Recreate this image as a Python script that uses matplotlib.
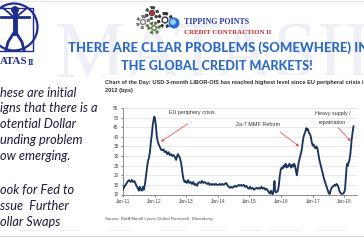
import matplotlib
matplotlib.use('Agg')
import matplotlib.pyplot as plt
from matplotlib.patches import Circle, Rectangle

W, H = 364, 240

# ---------------- data ----------------
dates = [
    2011.00, 2011.04, 2011.08, 2011.12, 2011.16, 2011.20, 2011.24, 2011.28, 2011.32, 2011.36,
    2011.40, 2011.44, 2011.48, 2011.50, 2011.53, 2011.56, 2011.60, 2011.63, 2011.66, 2011.70,
    2011.73, 2011.76, 2011.79, 2011.82, 2011.85, 2011.88, 2011.91, 2011.94, 2011.97, 2011.99,
    2012.01, 2012.04, 2012.07, 2012.10, 2012.13, 2012.16, 2012.20, 2012.24, 2012.28, 2012.32,
    2012.36, 2012.40, 2012.44, 2012.48, 2012.52, 2012.56, 2012.60, 2012.64, 2012.68, 2012.71,
    2012.74, 2012.77, 2012.80, 2012.83, 2012.86, 2012.89, 2012.92, 2012.95, 2012.98, 2013.02,
    2013.06, 2013.10, 2013.14, 2013.18, 2013.22, 2013.26, 2013.30, 2013.34, 2013.38, 2013.42,
    2013.46, 2013.50, 2013.54, 2013.58, 2013.62, 2013.66, 2013.70, 2013.74, 2013.78, 2013.82,
    2013.86, 2013.90, 2013.94, 2013.98, 2014.02, 2014.06, 2014.10, 2014.14, 2014.18, 2014.22,
    2014.26, 2014.30, 2014.34, 2014.38, 2014.42, 2014.46, 2014.50, 2014.54, 2014.58, 2014.62,
    2014.66, 2014.70, 2014.74, 2014.78, 2014.82, 2014.86, 2014.90, 2014.94, 2014.98, 2015.02,
    2015.06, 2015.10, 2015.14, 2015.18, 2015.22, 2015.26, 2015.30, 2015.34, 2015.38, 2015.42,
    2015.46, 2015.50, 2015.54, 2015.58, 2015.62, 2015.65, 2015.68, 2015.71, 2015.74, 2015.77,
    2015.79, 2015.81, 2015.84, 2015.87, 2015.90, 2015.93, 2015.96, 2015.99, 2016.02, 2016.05,
    2016.08, 2016.11, 2016.14, 2016.17, 2016.20, 2016.23, 2016.26, 2016.29, 2016.32, 2016.35,
    2016.38, 2016.41, 2016.44, 2016.47, 2016.50, 2016.53, 2016.56, 2016.59, 2016.62, 2016.65,
    2016.68, 2016.71, 2016.74, 2016.77, 2016.80, 2016.82, 2016.85, 2016.88, 2016.91, 2016.94,
    2016.97, 2017.00, 2017.03, 2017.06, 2017.09, 2017.12, 2017.15, 2017.18, 2017.21, 2017.24,
    2017.27, 2017.30, 2017.33, 2017.36, 2017.39, 2017.42, 2017.45, 2017.48, 2017.51, 2017.54,
    2017.57, 2017.60, 2017.63, 2017.66, 2017.69, 2017.72, 2017.75, 2017.78, 2017.81, 2017.84,
    2017.87, 2017.90, 2017.93, 2017.96, 2017.99, 2018.02, 2018.05, 2018.07, 2018.09, 2018.11,
    2018.13, 2018.15, 2018.17, 2018.19, 2018.21, 2018.23, 2018.25, 2018.27, 2018.29,
]
libor_ois = [
    12.5, 14.0, 15.0, 16.0, 17.0, 17.5, 16.5, 17.5, 16.5, 17.0,
    15.5, 14.0, 13.0, 12.0, 14.0, 12.5, 12.0, 14.0, 12.5, 16.0,
    20.0, 24.0, 27.5, 29.0, 32.0, 37.0, 41.0, 46.0, 49.0, 50.5,
    49.5, 46.0, 40.0, 37.5, 36.0, 35.0, 33.5, 33.0, 33.5, 32.0,
    32.5, 31.0, 32.0, 30.5, 31.0, 30.0, 30.5, 29.5, 28.0, 30.0,
    31.0, 30.0, 29.0, 27.0, 24.0, 20.0, 17.5, 16.5, 17.0, 16.0,
    17.5, 16.0, 16.5, 15.5, 16.5, 15.0, 15.5, 14.5, 16.0, 16.5,
    16.0, 17.0, 16.0, 16.5, 16.0, 15.5, 16.0, 15.0, 15.5, 15.0,
    15.5, 15.0, 15.5, 15.0, 15.0, 15.5, 15.0, 15.5, 15.0, 15.5,
    16.0, 15.0, 14.0, 13.5, 14.0, 13.5, 14.0, 14.5, 14.0, 14.5,
    15.0, 14.5, 15.0, 14.5, 15.0, 14.0, 14.5, 13.5, 13.0, 14.0,
    13.0, 13.5, 12.5, 13.0, 13.5, 13.0, 13.5, 13.0, 14.0, 13.0,
    13.5, 12.5, 13.0, 12.0, 11.0, 10.5, 12.0, 10.5, 10.2, 13.0,
    17.0, 12.0, 11.0, 11.5, 12.0, 15.0, 20.0, 23.0, 24.0, 23.5,
    25.0, 24.5, 26.0, 24.0, 25.0, 24.5, 26.0, 25.0, 24.0, 25.5,
    24.5, 26.0, 25.0, 22.0, 20.0, 24.0, 27.0, 29.0, 31.0, 33.0,
    37.0, 40.0, 41.5, 43.0, 44.5, 43.5, 44.0, 42.0, 41.5, 40.0,
    37.0, 35.5, 36.0, 34.5, 34.0, 35.0, 34.0, 31.0, 28.0, 26.0,
    24.0, 22.0, 20.0, 18.0, 16.5, 15.0, 13.5, 12.0, 10.5, 10.3,
    12.5, 13.5, 14.0, 14.5, 15.0, 14.5, 15.5, 15.0, 14.0, 12.0,
    11.0, 10.5, 10.3, 10.5, 11.0, 12.5, 19.0, 24.0, 26.0, 25.0,
    26.5, 27.0, 29.0, 31.0, 35.0, 38.5, 41.0, 43.5, 45.5,
]
x_ticks = [2011, 2012, 2013, 2014, 2015, 2016, 2017, 2018]
x_tick_labels = ['Jan-11', 'Jan-12', 'Jan-13', 'Jan-14', 'Jan-15', 'Jan-16', 'Jan-17', 'Jan-18']
y_ticks = [10, 15, 20, 25, 30, 35, 40, 45, 50, 55]

left_lines = ['hese are initial', 'igns that there is a', 'otential Dollar',
              'unding problem', 'ow emerging.', 'ook for Fed to',
              'ssue  Further', 'ollar Swaps']
title_1 = 'THERE ARE CLEAR PROBLEMS (SOMEWHERE) IN'
title_2 = 'THE GLOBAL CREDIT MARKETS!'
subtitle_1 = 'Chart of the Day: USD 3-month LIBOR-OIS has reached highest level since EU peripheral crisis in'
subtitle_2 = '2012 (bps)'
source = 'Source: BofA Merrill Lynch Global Research, Bloomberg'

# ---------------- figure ----------------
fig = plt.figure(figsize=(3.64, 2.40), dpi=100)
fig.patch.set_facecolor('white')
renderer = fig.canvas.get_renderer()

bg = fig.add_axes([0, 0, 1, 1])
bg.set_xlim(0, W)
bg.set_ylim(H, 0)
bg.axis('off')


def fit(artist_text, x0, x1):
    bb = artist_text.get_window_extent(renderer)
    fs = artist_text.get_fontsize() * (x1 - x0) / bb.width
    artist_text.set_fontsize(fs)
    return fs


def ftext(x, y, s, **kw):
    return fig.text(x / W, 1 - y / H, s, **kw)


# faint watermark
wm = bg.text(55, 77, 'MATASII', family='Liberation Serif', fontsize=60,
             color='#eff0f7', ha='left', va='baseline', zorder=1)
fit(wm, 55, 372)

# thin lavender lines top / bottom
bg.add_patch(Rectangle((0, 0.8), W, 1.4, color='#e2e2f2', zorder=2, lw=0))
bg.add_patch(Rectangle((0, 235.8), W, 1.6, color='#d8d8ef', zorder=2, lw=0))
for xa, xb in [(20, 45), (60, 80), (110, 130), (160, 185), (200, 225), (240, 262), (270, 300), (318, 345)]:
    bg.add_patch(Rectangle((xa, 229.5), xb - xa, 1.6, color='#ececf6', zorder=2, lw=0))

# white chart card
bg.add_patch(Rectangle((103, 75), 262, 153, color='white', zorder=3, lw=0))

# logo
blue = '#1f2d8c'
bg.add_patch(Circle((14, 27), 23.5, fill=False, ec=blue, lw=1.6, zorder=4))
bg.plot([-4, 33, 33, -4], [8, 8, 51, 51], color=blue, lw=1.0, zorder=4)
bg.add_patch(Circle((15, 10), 3.2, color=blue, zorder=4))
bg.plot([1, 29], [17, 17], color=blue, lw=2.0, zorder=4)
bg.plot([15, 15], [12, 33], color=blue, lw=3.5, zorder=4)
bg.plot([15, 8, 6], [31, 42, 50], color=blue, lw=2.0, zorder=4)
bg.plot([15, 22, 24], [31, 42, 50], color=blue, lw=2.0, zorder=4)
bg.plot([15, 3], [18, 8], color=blue, lw=1.3, zorder=4)
bg.plot([15, 27], [18, 8], color=blue, lw=1.3, zorder=4)
t1 = ftext(0, 62, 'ATAS', family='Liberation Serif', weight='bold', color=blue,
           ha='left', va='center', fontsize=9)
fit(t1, 0, 28)
t2 = ftext(27.3, 62.7, 'II', family='Liberation Serif', weight='bold', color=blue,
           ha='left', va='center', fontsize=6)

# gears
for (cx, cy, r, c) in [(143, 22, 5.5, '#7a7a7a'), (152, 13, 5.5, '#444444'),
                       (154, 28, 5.0, '#5a7a40'), (165, 20, 6.5, '#333333')]:
    bg.add_patch(Circle((cx, cy), r, fill=False, ec=c, lw=2.2, ls=(0, (1, 0.8)), zorder=4))
    bg.add_patch(Circle((cx, cy), r * 0.45, fill=False, ec=c, lw=1.0, zorder=4))
bg.add_patch(Circle((152, 13), 1.6, color='#c03030', zorder=5))
bg.add_patch(Circle((174, 23), 4.8, color='#2a6fd0', zorder=4))
bg.add_patch(Circle((173, 22), 2.2, color='#8fd0f0', zorder=5))

# header texts
tp = ftext(184, 22, 'TIPPING POINTS', family='Liberation Serif', weight='bold',
           color='#2438a8', ha='left', va='center', fontsize=6)
fit(tp, 184, 250)
cc = ftext(184, 32, 'CREDIT CONTRACTION II', family='Liberation Serif', weight='bold',
           color='#c0262b', ha='left', va='center', fontsize=4)
fit(cc, 184, 269)

ttl1 = ftext(68, 47.5, title_1, family='Lato', weight='black', color='#2f6bc4',
             ha='left', va='center', fontsize=10)
fit(ttl1, 68, 366)
ttl2 = ftext(121, 65.5, title_2, family='Lato', weight='black', color='#2f6bc4',
             ha='left', va='center', fontsize=10)
fit(ttl2, 121, 313)

# left text
txt_color = '#1b1b3d'
ys = [92.5, 108.5, 124.5, 140.5, 156.5, 190, 206, 222]
probe = ftext(0.5, ys[1], left_lines[1], family='Lato', style='italic',
              color=txt_color, ha='left', va='center', fontsize=8)
fs_left = fit(probe, 0.5, 98)
for s, y in zip(left_lines, ys):
    if s == left_lines[1]:
        continue
    ftext(0.5, y, s, family='Lato', style='italic', color=txt_color,
          ha='left', va='center', fontsize=fs_left)

# chart subtitle and source
st = ftext(105, 82.5, subtitle_1, family='Liberation Sans', weight='bold',
           color='#333333', ha='left', va='center', fontsize=4)
fs_sub = fit(st, 105, 364)
ftext(105, 90.5, subtitle_2, family='Liberation Sans', weight='bold',
      color='#333333', ha='left', va='center', fontsize=fs_sub)
src = ftext(105, 219, source, family='Liberation Sans', color='#555555',
            ha='left', va='center', fontsize=3)
fit(src, 105, 212)

# ---------------- the chart ----------------
ax = fig.add_axes([123 / W, 1 - 194.5 / H, (357 - 123) / W, (194.5 - 108) / H])
ax.patch.set_alpha(0)
ax.plot(dates, libor_ois, color='#1b355f', lw=1.35, solid_joinstyle='round', zorder=3)
ax.set_xlim(2011.0, 2018.4)
ax.set_ylim(10, 55)
ax.set_xticks(x_ticks)
ax.set_xticklabels(x_tick_labels)
ax.set_yticks(y_ticks)
ax.grid(axis='y', color='#dedede', lw=0.5, zorder=0)
for sp in ['top', 'right']:
    ax.spines[sp].set_visible(False)
for sp in ['left', 'bottom']:
    ax.spines[sp].set_color('#777777')
    ax.spines[sp].set_linewidth(0.6)
ax.tick_params(labelsize=3.4, colors='#555555', length=1.5, width=0.5, pad=1.6)
for lab in ax.get_xticklabels() + ax.get_yticklabels():
    lab.set_family('Liberation Sans')
    lab.set_color('#444444')

ann_kw = dict(fontsize=3.9, color='#333333', family='Liberation Sans', zorder=4)
arrow = dict(arrowstyle='-|>', color='#e05555', lw=0.55, mutation_scale=4,
             shrinkA=0, shrinkB=0)
ax.text(2013.18, 52.9, 'EU periphery crisis', ha='center', va='center', **ann_kw)
ax.annotate('', xy=(2012.2, 37.5), xytext=(2013.05, 46.8), arrowprops=arrow)
ax.text(2015.28, 46.4, '2a-7 MMF Reform', ha='center', va='center', **ann_kw)
ax.annotate('', xy=(2016.57, 35.0), xytext=(2015.97, 42.5), arrowprops=arrow)
ax.text(2017.64, 52.1, 'Heavy supply /', ha='center', va='center', **ann_kw)
ax.text(2017.63, 47.7, 'repatriation', ha='center', va='center', **ann_kw)
ax.annotate('', xy=(2018.2, 37.7), xytext=(2017.81, 44.8), arrowprops=arrow)

fig.savefig('out.png', dpi=100, facecolor='white')
